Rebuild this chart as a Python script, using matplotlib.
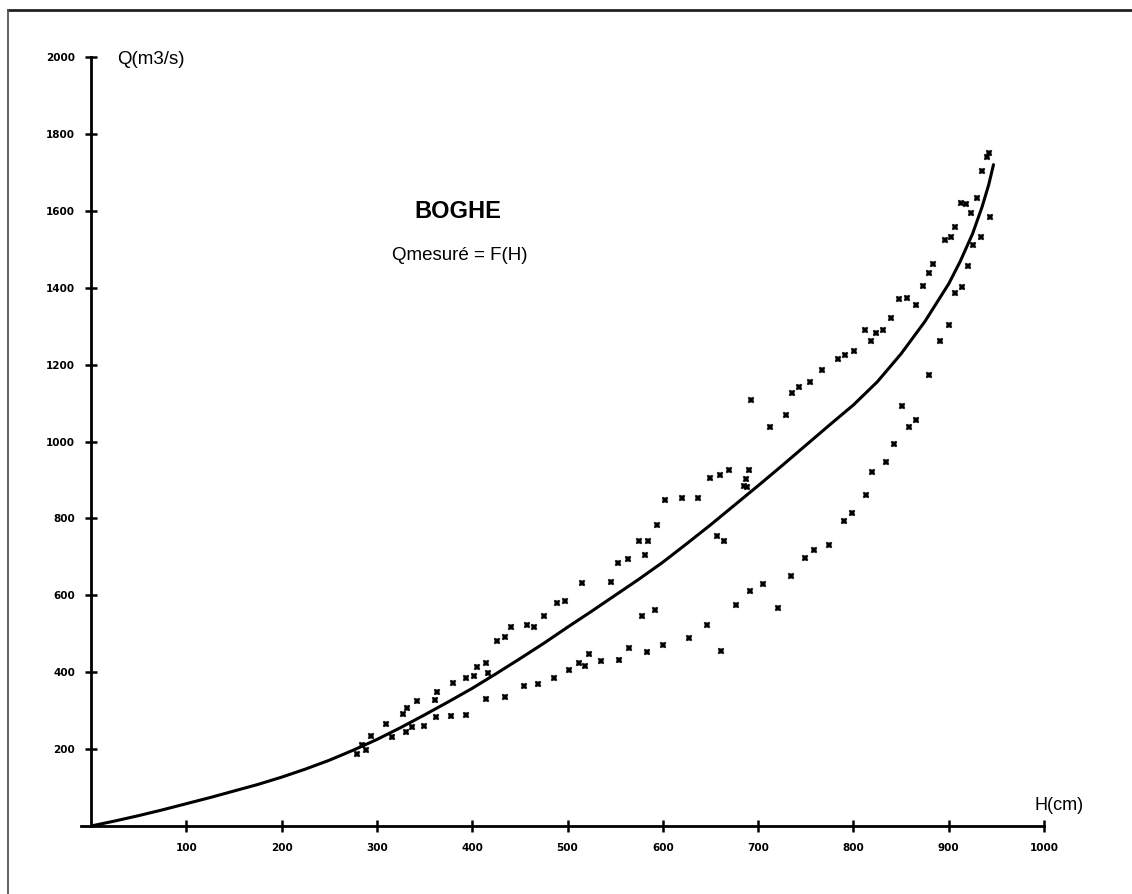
# -*- coding: utf-8 -*-
"""Courbe de tarage BOGHE : Qmesuré = F(H)."""

import matplotlib
matplotlib.use("Agg")
import matplotlib.pyplot as plt
from matplotlib.lines import Line2D

plt.rcParams["font.family"] = ["Liberation Sans", "DejaVu Sans"]

h_mesure = [279, 284, 289, 294, 310, 316, 327, 332, 331, 337, 342, 349, 361, 363,
            362, 378, 380, 394, 394, 402, 405, 415, 417, 415, 426, 434, 434, 441,
            454, 457, 465, 469, 475, 486, 489, 497, 502, 512, 515, 518, 523, 535,
            546, 553, 554, 564, 565, 578, 592, 575, 584, 581, 583, 594, 600, 602,
            620, 627, 637, 646, 650, 657, 664, 661, 660, 669, 677, 685, 688, 687,
            690, 691, 693, 705, 713, 721, 729, 734, 736, 743, 749, 754, 759, 767,
            774, 784, 790, 791, 799, 801, 813, 812, 818, 820, 824, 831, 834, 839,
            843, 848, 851, 856, 858, 866, 866, 873, 879, 879, 884, 891, 896, 900,
            902, 907, 907, 914, 913, 918, 920, 923, 926, 930, 934, 935, 940, 942,
            943]
q_mesure = [186, 210, 197, 235, 265, 232, 291, 308, 245, 257, 324, 261, 327, 348,
            283, 287, 371, 289, 386, 389, 413, 423, 399, 330, 480, 491, 336, 517,
            364, 522, 517, 369, 546, 385, 579, 585, 406, 425, 633, 415, 447, 428,
            635, 683, 432, 695, 462, 545, 562, 740, 742, 706, 452, 784, 470, 847,
            853, 489, 853, 524, 906, 754, 740, 456, 912, 925, 574, 883, 882, 903,
            927, 612, 1109, 629, 1038, 566, 1068, 649, 1127, 1141, 696, 1154, 719, 1187,
            730, 1215, 794, 1224, 813, 1236, 861, 1289, 1262, 920, 1281, 1291, 946, 1320,
            993, 1370, 1093, 1373, 1038, 1056, 1356, 1404, 1173, 1439, 1462, 1261, 1523, 1303,
            1531, 1387, 1558, 1403, 1619, 1618, 1456, 1593, 1511, 1634, 1532, 1703, 1739, 1750,
            1584]

# Courbe ajustée (tous les 25 cm).
h_courbe = [0, 25, 50, 75, 100, 125, 150, 175, 200, 225, 250, 275, 300, 325,
            350, 375, 400, 425, 450, 475, 500, 525, 550, 575, 600, 625, 650, 675,
            700, 725, 750, 775, 800, 825, 850, 875, 900, 912, 925, 935, 942, 947]
q_courbe = [0, 13, 27, 42, 58, 74, 91, 108, 127, 148, 171, 197, 225, 256,
            289, 323, 358, 396, 435, 475, 517, 558, 600, 642, 686, 734, 783, 834,
            885, 937, 990, 1043, 1095, 1155, 1228, 1312, 1410, 1468, 1540, 1610, 1668, 1720]

x_ticks = [100, 200, 300, 400, 500, 600, 700, 800, 900, 1000]
y_ticks = [200, 400, 600, 800, 1000, 1200, 1400, 1600, 1800, 2000]

W, H = 1132, 894
fig = plt.figure(figsize=(W / 100, H / 100), dpi=100)

# axes placés pour retrouver l'origine (91, 826) et les extrémités en pixels
x0 = -10
left = (91 + x0 * 0.953) / W
ax = fig.add_axes([left, 1 - 826 / H, (1044 - 91 - x0 * 0.953) / W, (826 - 57) / H])
ax.set_xlim(x0, 1000)
ax.set_ylim(0, 2000)

ax.plot(h_courbe, q_courbe, color="black", linewidth=2.2, solid_capstyle="round",
        solid_joinstyle="round", zorder=2)
ax.plot(h_mesure, q_mesure, linestyle="none", marker="X", markersize=4.6,
        color="black", markeredgewidth=0.3, zorder=3)

for side in ("top", "right"):
    ax.spines[side].set_visible(False)
ax.spines["left"].set_position(("data", 0))
ax.spines["left"].set_linewidth(2)
ax.spines["bottom"].set_linewidth(2)

ax.set_xticks(x_ticks)
ax.set_yticks(y_ticks)
ax.set_xticklabels([str(v) for v in x_ticks])
ax.set_yticklabels([str(v) for v in y_ticks])
ax.tick_params(axis="both", direction="inout", length=9, width=1.8, labelsize=7.5)
ax.tick_params(axis="x", pad=8)
ax.tick_params(axis="y", pad=7)
for lab in ax.get_xticklabels() + ax.get_yticklabels():
    lab.set_fontweight("bold")
    lab.set_family("DejaVu Sans")

# textes
fig.text(117 / W, 1 - 60 / H, "Q(m3/s)", ha="left", va="center", fontsize=13.5)
fig.text(1034 / W, 1 - 805 / H, "H(cm)", ha="left", va="center", fontsize=13)
fig.text(458 / W, 1 - 212 / H, "BOGHE", ha="center", va="center", fontsize=17, fontweight="bold")
fig.text(460 / W, 1 - 256 / H, "Qmesuré = F(H)", ha="center", va="center", fontsize=13.5)

# cadre du scan (haut et gauche)
fig.add_artist(Line2D([8 / W, 1], [1 - 10 / H, 1 - 10 / H], color="#222222", linewidth=2))
fig.add_artist(Line2D([8 / W, 8 / W], [0, 1 - 10 / H], color="#555555", linewidth=1.3))

fig.savefig("out.png", dpi=100)
